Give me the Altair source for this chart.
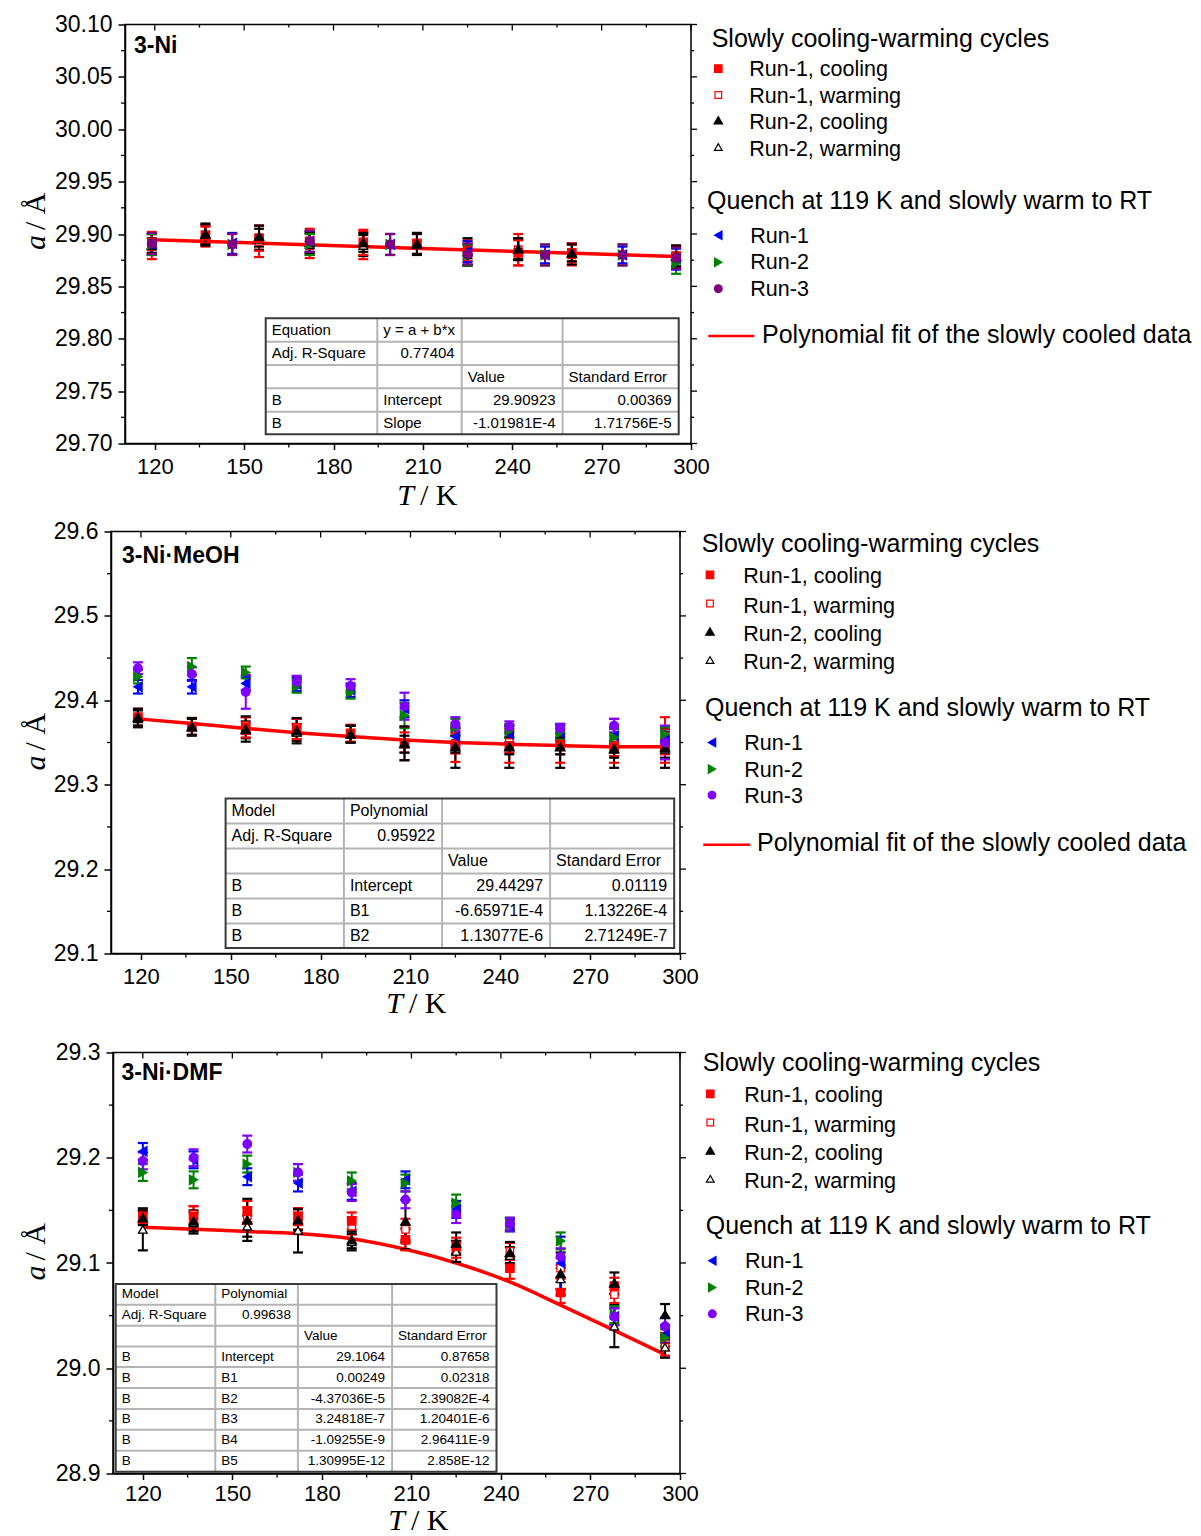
import altair as alt
import pandas as pd

SANS = "Liberation Sans"
SERIF = "Liberation Serif"

# ---------------- shared axis ticks ----------------
X_MAJOR = [120, 150, 180, 210, 240, 270, 300]
X_MINOR = [135, 165, 195, 225, 255, 285]

# ---------------- Panel 1 : 3-Ni ----------------
P1_LABEL = "3-Ni"
P1_YTICKS = [29.70, 29.75, 29.80, 29.85, 29.90, 29.95, 30.00, 30.05, 30.10]
P1_YMINOR = [29.725, 29.775, 29.825, 29.875, 29.925, 29.975, 30.025, 30.075]
P1_T_SLOW = [119, 137, 155, 172, 190, 208, 225, 242, 260, 295]
P1_R1C = [29.892, 29.899, 29.896, 29.893, 29.892, 29.891, 29.884, 29.882, 29.882, 29.879]
P1_R1C_E = [0.010, 0.008, 0.012, 0.012, 0.012, 0.010, 0.010, 0.012, 0.009, 0.010]
P1_R1W = [29.888, 29.898, 29.893, 29.889, 29.889, 29.890, 29.880, 29.885, 29.880, 29.877]
P1_R1W_E = [0.012, 0.010, 0.015, 0.012, 0.013, 0.010, 0.010, 0.015, 0.010, 0.010]
P1_R2C = [29.889, 29.900, 29.898, 29.892, 29.892, 29.891, 29.883, 29.886, 29.882, 29.879]
P1_R2C_E = [0.007, 0.010, 0.010, 0.010, 0.009, 0.010, 0.013, 0.010, 0.008, 0.010]
P1_R2W = [29.890, 29.899, 29.895, 29.890, 29.889, 29.890, 29.880, 29.885, 29.881, 29.878]
P1_R2W_E = [0.010, 0.010, 0.010, 0.010, 0.010, 0.010, 0.010, 0.010, 0.010, 0.010]
P1_T_QUENCH = [119, 146, 172, 199, 225, 251, 277, 295]
P1_Q1 = [29.890, 29.891, 29.893, 29.890, 29.883, 29.880, 29.880, 29.876]
P1_Q1_E = [0.010, 0.010, 0.010, 0.010, 0.010, 0.008, 0.008, 0.010]
P1_Q2 = [29.890, 29.890, 29.890, 29.890, 29.880, 29.880, 29.880, 29.872]
P1_Q2_E = [0.010, 0.010, 0.010, 0.010, 0.010, 0.010, 0.010, 0.010]
P1_Q3 = [29.891, 29.890, 29.893, 29.890, 29.881, 29.880, 29.880, 29.877]
P1_Q3_E = [0.010, 0.010, 0.010, 0.010, 0.010, 0.010, 0.010, 0.010]
P1_FIT_T = [119, 207, 295]
P1_FIT_A = [29.8945, 29.8865, 29.8785]
P1_TABLE = [
    ["Equation", "y = a + b*x", "", ""],
    ["Adj. R-Square", "0.77404", "", ""],
    ["", "", "Value", "Standard Error"],
    ["B", "Intercept", "29.90923", "0.00369"],
    ["B", "Slope", "-1.01981E-4", "1.71756E-5"],
]

# ---------------- Panel 2 : 3-Ni·MeOH ----------------
P2_LABEL = "3-Ni\u00b7MeOH"
P2_YTICKS = [29.1, 29.2, 29.3, 29.4, 29.5, 29.6]
P2_YMINOR = [29.15, 29.25, 29.35, 29.45, 29.55]
P2_T = [119, 137, 155, 172, 190, 208, 225, 243, 260, 278, 295]
P2_R1C = [29.380, 29.369, 29.368, 29.366, 29.361, 29.349, 29.347, 29.346, 29.346, 29.346, 29.346]
P2_R1C_E = [0.010, 0.010, 0.012, 0.012, 0.010, 0.020, 0.020, 0.020, 0.020, 0.020, 0.020]
P2_R1W = [29.379, 29.369, 29.370, 29.368, 29.360, 29.350, 29.349, 29.350, 29.348, 29.356, 29.358]
P2_R1W_E = [0.010, 0.010, 0.010, 0.010, 0.010, 0.012, 0.012, 0.012, 0.012, 0.022, 0.022]
P2_R2C = [29.380, 29.369, 29.366, 29.364, 29.360, 29.349, 29.345, 29.345, 29.345, 29.343, 29.344]
P2_R2C_E = [0.010, 0.010, 0.015, 0.015, 0.010, 0.020, 0.025, 0.025, 0.025, 0.023, 0.024]
P2_R2W = [29.378, 29.368, 29.365, 29.362, 29.360, 29.348, 29.348, 29.346, 29.346, 29.342, 29.342]
P2_R2W_E = [0.010, 0.010, 0.010, 0.010, 0.010, 0.010, 0.010, 0.010, 0.010, 0.010, 0.010]
P2_Q1 = [29.416, 29.416, 29.420, 29.419, 29.412, 29.390, 29.357, 29.360, 29.362, 29.358, 29.353]
P2_Q1_E = [0.008, 0.008, 0.008, 0.008, 0.008, 0.010, 0.010, 0.010, 0.010, 0.010, 0.010]
P2_Q2 = [29.428, 29.440, 29.433, 29.417, 29.410, 29.382, 29.368, 29.364, 29.362, 29.356, 29.360]
P2_Q2_E = [0.008, 0.010, 0.007, 0.008, 0.008, 0.015, 0.010, 0.008, 0.008, 0.010, 0.008]
P2_Q3 = [29.438, 29.431, 29.410, 29.422, 29.417, 29.393, 29.372, 29.369, 29.367, 29.370, 29.350]
P2_Q3_E = [0.007, 0.008, 0.020, 0.007, 0.008, 0.016, 0.008, 0.006, 0.005, 0.008, 0.020]
P2_FIT_T = [119, 137, 155, 172, 190, 208, 225, 243, 260, 278, 295]
P2_FIT_A = [29.378, 29.3725, 29.3667, 29.3616, 29.357, 29.353, 29.350, 29.348, 29.3463, 29.345, 29.345]
P2_TABLE = [
    ["Model", "Polynomial", "", ""],
    ["Adj. R-Square", "0.95922", "", ""],
    ["", "", "Value", "Standard Error"],
    ["B", "Intercept", "29.44297", "0.01119"],
    ["B", "B1", "-6.65971E-4", "1.13226E-4"],
    ["B", "B2", "1.13077E-6", "2.71249E-7"],
]

# ---------------- Panel 3 : 3-Ni·DMF ----------------
P3_LABEL = "3-Ni\u00b7DMF"
P3_YTICKS = [28.9, 29.0, 29.1, 29.2, 29.3]
P3_YMINOR = [28.95, 29.05, 29.15, 29.25]
P3_T = [120, 137, 155, 172, 190, 208, 225, 243, 260, 278, 295]
P3_R1C = [29.144, 29.144, 29.149, 29.144, 29.140, 29.122, 29.116, 29.095, 29.072, 29.078, 29.030]
P3_R1C_E = [0.006, 0.010, 0.010, 0.008, 0.008, 0.010, 0.008, 0.010, 0.010, 0.008, 0.010]
P3_R1W = [29.143, 29.146, 29.145, 29.140, 29.135, 29.132, 29.113, 29.111, 29.095, 29.070, 29.020]
P3_R1W_E = [0.006, 0.008, 0.008, 0.008, 0.008, 0.010, 0.008, 0.008, 0.010, 0.008, 0.008]
P3_R2C = [29.143, 29.140, 29.141, 29.141, 29.122, 29.140, 29.119, 29.110, 29.090, 29.081, 29.051]
P3_R2C_E = [0.007, 0.010, 0.020, 0.010, 0.008, 0.020, 0.010, 0.010, 0.020, 0.010, 0.010]
P3_R2W = [29.132, 29.138, 29.135, 29.131, 29.120, 29.123, 29.111, 29.107, 29.085, 29.040, 29.020]
P3_R2W_E = [0.020, 0.010, 0.010, 0.021, 0.008, 0.010, 0.010, 0.008, 0.010, 0.020, 0.010]
P3_Q1 = [29.206, 29.198, 29.182, 29.176, 29.168, 29.179, 29.151, 29.136, 29.100, 29.049, 29.032]
P3_Q1_E = [0.008, 0.008, 0.008, 0.008, 0.008, 0.008, 0.008, 0.006, 0.025, 0.008, 0.008]
P3_Q2 = [29.186, 29.179, 29.194, 29.186, 29.178, 29.176, 29.157, 29.137, 29.121, 29.051, 29.029]
P3_Q2_E = [0.008, 0.008, 0.008, 0.008, 0.008, 0.008, 0.008, 0.006, 0.008, 0.008, 0.008]
P3_Q3 = [29.197, 29.200, 29.213, 29.186, 29.167, 29.160, 29.146, 29.137, 29.106, 29.049, 29.040]
P3_Q3_E = [0.008, 0.008, 0.008, 0.008, 0.008, 0.008, 0.008, 0.006, 0.008, 0.008, 0.008]
P3_FIT_T = [120, 137, 155, 172, 190, 208, 225, 243, 260, 278, 295]
P3_FIT_A = [29.134, 29.132, 29.130, 29.128, 29.123, 29.113, 29.100, 29.082, 29.060, 29.036, 29.013]
P3_TABLE = [
    ["Model", "Polynomial", "", ""],
    ["Adj. R-Square", "0.99638", "", ""],
    ["", "", "Value", "Standard Error"],
    ["B", "Intercept", "29.1064", "0.87658"],
    ["B", "B1", "0.00249", "0.02318"],
    ["B", "B2", "-4.37036E-5", "2.39082E-4"],
    ["B", "B3", "3.24818E-7", "1.20401E-6"],
    ["B", "B4", "-1.09255E-9", "2.96411E-9"],
    ["B", "B5", "1.30995E-12", "2.858E-12"],
]

# ---------------- legend texts ----------------
LEG_HEAD1 = "Slowly cooling-warming cycles"
LEG_SLOW = ["Run-1, cooling", "Run-1, warming", "Run-2, cooling", "Run-2, warming"]
LEG_HEAD2 = "Quench at 119 K and slowly warm to RT"
LEG_QUENCH = ["Run-1", "Run-2", "Run-3"]
LEG_FIT = "Polynomial fit of the slowly cooled data"

# ---------------- styles ----------------
RED, BLACK, BLUE, GREEN = "#ff0000", "#000000", "#0000ff", "#008000"


def marker_styles(purple):
    return {
        "r1c": ("square", RED, RED, 70),
        "r1w": ("square", "#ffffff", RED, 55),
        "r2c": ("triangle-up", BLACK, BLACK, 90),
        "r2w": ("triangle-up", "#ffffff", BLACK, 75),
        "q1": ("triangle-left", BLUE, BLUE, 90),
        "q2": ("triangle-right", GREEN, GREEN, 90),
        "q3": ("circle", purple, purple, 75),
    }


SLOW_KEYS = ["r1c", "r1w", "r2c", "r2w"]
QUENCH_KEYS = ["q1", "q2", "q3"]
DRAW_ORDER = ["r1w", "r2w", "r1c", "r2c", "q1", "q2", "q3"]

PANELS = [
    dict(
        label=P1_LABEL, ydom=(29.70, 30.10), yticks=P1_YTICKS, yminor=P1_YMINOR, yfmt=".2f",
        series=[("r1c", P1_T_SLOW, P1_R1C, P1_R1C_E), ("r1w", P1_T_SLOW, P1_R1W, P1_R1W_E),
                ("r2c", P1_T_SLOW, P1_R2C, P1_R2C_E), ("r2w", P1_T_SLOW, P1_R2W, P1_R2W_E),
                ("q1", P1_T_QUENCH, P1_Q1, P1_Q1_E), ("q2", P1_T_QUENCH, P1_Q2, P1_Q2_E),
                ("q3", P1_T_QUENCH, P1_Q3, P1_Q3_E)],
        fit=(P1_FIT_T, P1_FIT_A), table=P1_TABLE, purple="#800080",
        # geometry (pixels, relative to plot area)
        left=123, W=566, H=419, top_ext=20, bot_ext=70, xpad=7,
        lab=(9, 28.5), ytitle=(-80, 210.5), xtitle=(289, 480),
        tcols=[140.7, 252.3, 336.7, 437.6, 553.7],
        trows=[293.8, 317.2, 340.5, 363.8, 387.2, 409.8], tfont=15,
        leg=dict(h1=(586.7, 22.5), smx=593.3, stx=624.3, smy=[44.2, 70.5, 95.8, 122.5],
                 sty=[51.5, 78.2, 104.8, 131.5], h2=(582, 184.8), qmx=593.3, qtx=625.3,
                 qmy=[210.8, 237.8, 264.2], qty=[218.2, 244.8, 271.5],
                 fit=(583.3, 629.3, 311.5, 637, 318.2)),
    ),
    dict(
        label=P2_LABEL, ydom=(29.1, 29.6), yticks=P2_YTICKS, yminor=P2_YMINOR, yfmt=".1f",
        series=[("r1c", P2_T, P2_R1C, P2_R1C_E), ("r1w", P2_T, P2_R1W, P2_R1W_E),
                ("r2c", P2_T, P2_R2C, P2_R2C_E), ("r2w", P2_T, P2_R2W, P2_R2W_E),
                ("q1", P2_T, P2_Q1, P2_Q1_E), ("q2", P2_T, P2_Q2, P2_Q2_E),
                ("q3", P2_T, P2_Q3, P2_Q3_E)],
        fit=(P2_FIT_T, P2_FIT_A), table=P2_TABLE, purple="#8000ff",
        left=109, W=569, H=422, top_ext=15.9, bot_ext=70, xpad=7,
        lab=(11, 31), ytitle=(-66, 224), xtitle=(292, 481),
        tcols=[114.6, 232.9, 331.1, 439.1, 563.2],
        trows=[267, 292, 317, 342, 367, 392, 416.6], tfont=16,
        leg=dict(h1=(590.7, 20.3), smx=599, stx=632.3, smy=[43.3, 72, 100, 128.6],
                 sty=[51.6, 81, 109.3, 137.6], h2=(594, 184.3), qmx=601, qtx=633.3,
                 qmy=[211, 237.6, 263.6], qty=[218.3, 245, 271],
                 fit=(592.3, 639.3, 313.3, 646, 319.3)),
    ),
    dict(
        label=P3_LABEL, ydom=(28.9, 29.3), yticks=P3_YTICKS, yminor=P3_YMINOR, yfmt=".1f",
        series=[("r1c", P3_T, P3_R1C, P3_R1C_E), ("r1w", P3_T, P3_R1W, P3_R1W_E),
                ("r2c", P3_T, P3_R2C, P3_R2C_E), ("r2w", P3_T, P3_R2W, P3_R2W_E),
                ("q1", P3_T, P3_Q1, P3_Q1_E), ("q2", P3_T, P3_Q2, P3_Q2_E),
                ("q3", P3_T, P3_Q3, P3_Q3_E)],
        fit=(P3_FIT_T, P3_FIT_A), table=P3_TABLE, purple="#8000ff",
        left=111, W=567, H=421, top_ext=27, bot_ext=58, xpad=4,
        lab=(8.5, 27.3), ytitle=(-68, 213), xtitle=(292, 477),
        tcols=[2.7, 102.3, 184.9, 279.1, 383.5],
        trows=[231.6, 252.3, 273.3, 294, 314.6, 335.6, 356.6, 377.3, 398.3, 419.3], tfont=13.5,
        leg=dict(h1=(589.7, 18.3), smx=597.3, stx=631.3, smy=[41.3, 70, 98, 126.3],
                 sty=[49.6, 79, 107.3, 135.6], h2=(592.7, 181.6), qmx=599.3, qtx=632,
                 qmy=[208.3, 235, 261.3], qty=[215, 242.3, 268.3], fit=None),
    ),
]

ONE = pd.DataFrame({"k": [0]})


def is_num(s):
    try:
        float(s)
        return True
    except ValueError:
        return False


def build_panel(p):
    W, H = p["W"], p["H"]
    ylo, yhi = p["ydom"]
    sx = lambda px: 110 + px / W * 190.0
    sy = lambda py: yhi - py / H * (yhi - ylo)
    styles = marker_styles(p["purple"])

    XS = alt.Scale(domain=[110, 300], nice=False, zero=False)
    YS = alt.Scale(domain=[ylo, yhi], nice=False, zero=False)
    XA = alt.Axis(values=X_MAJOR, title=None, grid=False, labelFont=SANS, labelFontSize=22,
                  labelColor="black", tickColor="black", tickWidth=1.5, tickSize=6,
                  labelPadding=p["xpad"], domainColor="black", domainWidth=1.5, labelFlush=False,
                  labelOverlap=False)
    YA = alt.Axis(values=p["yticks"], format=p["yfmt"], title=None, grid=False, labelFont=SANS,
                  labelFontSize=23, labelColor="black", tickColor="black", tickWidth=1.5,
                  tickSize=7, labelPadding=6, domainColor="black", domainWidth=1.5,
                  labelOverlap=False, labelFlush=False)

    def X(f):
        return alt.X(f, scale=XS, axis=XA)

    def Y(f):
        return alt.Y(f, scale=YS, axis=YA)

    by_key = {s[0]: s for s in p["series"]}
    rows = []
    for key in DRAW_ORDER:
        _, T, A, E = by_key[key]
        shape, fill, stroke, size = styles[key]
        for t, a, e in zip(T, A, E):
            rows.append(dict(T=t, a=a, lo=a - e, hi=a + e, shape=shape, fill=fill,
                             stroke=stroke, size=size))
    ser = pd.DataFrame(rows)
    col = alt.Color("stroke:N", scale=None)

    layers = []
    # minor / opposite ticks
    xminor = pd.DataFrame({"T": X_MINOR})
    xmajor = pd.DataFrame({"T": X_MAJOR})
    yminor = pd.DataFrame({"a": p["yminor"]})
    ymajor = pd.DataFrame({"a": p["yticks"]})
    tk = dict(color="black", strokeWidth=1.3)
    layers.append(alt.Chart(xminor).mark_rule(**tk).encode(x=X("T:Q"), y=alt.value(H), y2=alt.value(H + 4)))
    layers.append(alt.Chart(yminor).mark_rule(**tk).encode(y=Y("a:Q"), x=alt.value(0), x2=alt.value(-4)))
    layers.append(alt.Chart(xmajor).mark_rule(**tk).encode(x=X("T:Q"), y=alt.value(0), y2=alt.value(6)))
    layers.append(alt.Chart(xminor).mark_rule(**tk).encode(x=X("T:Q"), y=alt.value(0), y2=alt.value(3)))
    layers.append(alt.Chart(ymajor).mark_rule(**tk).encode(y=Y("a:Q"), x=alt.value(W), x2=alt.value(W + 6)))
    layers.append(alt.Chart(yminor).mark_rule(**tk).encode(y=Y("a:Q"), x=alt.value(W), x2=alt.value(W + 3)))

    # fit line
    fit = pd.DataFrame({"T": p["fit"][0], "a": p["fit"][1]})
    layers.append(alt.Chart(fit).mark_line(color=RED, strokeWidth=3.5, interpolate="monotone")
                  .encode(x=X("T:Q"), y=Y("a:Q"), order="T:Q"))

    # error bars and points
    layers.append(alt.Chart(ser).mark_rule(strokeWidth=2).encode(x=X("T:Q"), y=Y("lo:Q"), y2="hi:Q", color=col))
    for f in ["lo", "hi"]:
        layers.append(alt.Chart(ser).mark_tick(orient="horizontal", size=10, thickness=2.2, opacity=1)
                      .encode(x=X("T:Q"), y=Y(f + ":Q"), color=col))
    pt_enc = dict(shape=alt.Shape("shape:N", scale=None), fill=alt.Fill("fill:N", scale=None),
                  stroke=alt.Stroke("stroke:N", scale=None), size=alt.Size("size:Q", scale=None))
    layers.append(alt.Chart(ser).mark_point(filled=True, opacity=1, strokeWidth=1.3)
                  .encode(x=X("T:Q"), y=Y("a:Q"), **pt_enc))

    # fit-result table
    tc, tr = p["tcols"], p["trows"]
    box = pd.DataFrame({"x1": [sx(tc[0])], "x2": [sx(tc[-1])], "y1": [sy(tr[0])], "y2": [sy(tr[-1])]})
    layers.append(alt.Chart(box).mark_rect(fill="white").encode(x=X("x1:Q"), x2="x2:Q", y=Y("y1:Q"), y2="y2:Q"))
    lines = [dict(x1=sx(c), x2=sx(c), y1=sy(tr[0]), y2=sy(tr[-1])) for c in tc[1:-1]]
    lines += [dict(x1=sx(tc[0]), x2=sx(tc[-1]), y1=sy(r), y2=sy(r)) for r in tr[1:-1]]
    layers.append(alt.Chart(pd.DataFrame(lines)).mark_rule(color="#b4b4b4", strokeWidth=2)
                  .encode(x=X("x1:Q"), x2="x2:Q", y=Y("y1:Q"), y2="y2:Q"))
    layers.append(alt.Chart(box).mark_rect(fillOpacity=0, stroke="#3a3a3a", strokeWidth=2)
                  .encode(x=X("x1:Q"), x2="x2:Q", y=Y("y1:Q"), y2="y2:Q"))
    left_cells, right_cells = [], []
    for i, row in enumerate(p["table"]):
        yc = sy((tr[i] + tr[i + 1]) / 2)
        for j, txt in enumerate(row):
            if not txt:
                continue
            if j > 0 and is_num(txt):
                right_cells.append(dict(tx=sx(tc[j + 1] - 7), ty=yc, text=txt))
            else:
                left_cells.append(dict(tx=sx(tc[j] + 6), ty=yc, text=txt))
    for cells, al in [(left_cells, "left"), (right_cells, "right")]:
        layers.append(alt.Chart(pd.DataFrame(cells)).mark_text(
            align=al, baseline="middle", font=SANS, fontSize=p["tfont"], color="black")
            .encode(x=X("tx:Q"), y=Y("ty:Q"), text="text:N"))

    # panel label
    layers.append(alt.Chart(ONE).mark_text(text=p["label"], align="left", baseline="alphabetic",
                                           font=SANS, fontWeight="bold", fontSize=23, color="black")
                  .encode(x=alt.value(p["lab"][0]), y=alt.value(p["lab"][1])))

    # axis titles
    yx, yy = p["ytitle"]
    ser_t = dict(font=SERIF, fontSize=30, color="black", baseline="alphabetic")
    layers.append(alt.Chart(ONE).mark_text(text="a", fontStyle="italic", angle=270, align="right", **ser_t)
                  .encode(x=alt.value(yx), y=alt.value(yy)))
    layers.append(alt.Chart(ONE).mark_text(text="/ \u00c5", angle=270, align="left", **ser_t)
                  .encode(x=alt.value(yx), y=alt.value(yy - 5)))
    xx, xy = p["xtitle"]
    layers.append(alt.Chart(ONE).mark_text(text="T", fontStyle="italic", align="right", **ser_t)
                  .encode(x=alt.value(xx), y=alt.value(xy)))
    layers.append(alt.Chart(ONE).mark_text(text="/ K", align="left", **ser_t)
                  .encode(x=alt.value(xx + 6), y=alt.value(xy)))

    # legend
    lg = p["leg"]
    heads = [dict(tx=sx(lg["h1"][0]), ty=sy(lg["h1"][1]), text=LEG_HEAD1),
             dict(tx=sx(lg["h2"][0]), ty=sy(lg["h2"][1]), text=LEG_HEAD2)]
    if lg["fit"] is not None:
        fx1, fx2, fy, ftx, fty = lg["fit"]
        heads.append(dict(tx=sx(ftx), ty=sy(fty), text=LEG_FIT))
        fl = pd.DataFrame({"x1": [sx(fx1)], "x2": [sx(fx2)], "y1": [sy(fy)]})
        layers.append(alt.Chart(fl).mark_rule(color=RED, strokeWidth=2.5)
                      .encode(x=X("x1:Q"), x2="x2:Q", y=Y("y1:Q")))
    layers.append(alt.Chart(pd.DataFrame(heads)).mark_text(
        align="left", baseline="alphabetic", font=SANS, fontSize=25, color="black")
        .encode(x=X("tx:Q"), y=Y("ty:Q"), text="text:N"))
    items = [dict(tx=sx(lg["stx"]), ty=sy(y), text=t) for y, t in zip(lg["sty"], LEG_SLOW)]
    items += [dict(tx=sx(lg["qtx"]), ty=sy(y), text=t) for y, t in zip(lg["qty"], LEG_QUENCH)]
    layers.append(alt.Chart(pd.DataFrame(items)).mark_text(
        align="left", baseline="alphabetic", font=SANS, fontSize=21.5, color="black")
        .encode(x=X("tx:Q"), y=Y("ty:Q"), text="text:N"))
    mk = []
    for key, y in zip(SLOW_KEYS, lg["smy"]):
        shape, fill, stroke, size = styles[key]
        mk.append(dict(T=sx(lg["smx"]), a=sy(y), shape=shape, fill=fill, stroke=stroke, size=size * 0.8))
    for key, y in zip(QUENCH_KEYS, lg["qmy"]):
        shape, fill, stroke, size = styles[key]
        mk.append(dict(T=sx(lg["qmx"]), a=sy(y), shape=shape, fill=fill, stroke=stroke, size=size * 0.8))
    layers.append(alt.Chart(pd.DataFrame(mk)).mark_point(filled=True, opacity=1, strokeWidth=1.2)
                  .encode(x=X("T:Q"), y=Y("a:Q"), **pt_enc))

    # invisible rule that fixes this panel's layout bounds
    layers.append(alt.Chart(ONE).mark_rule(strokeOpacity=0, strokeWidth=0)
                  .encode(x=alt.value(-p["left"]), y=alt.value(-p["top_ext"]),
                          y2=alt.value(H + p["bot_ext"])))

    panel = alt.layer(*layers).properties(width=W, height=H)
    # a 1-px invisible spacer in front lets the panel be placed by its own left bound
    spacer = (alt.Chart(ONE).mark_rule(strokeOpacity=0, strokeWidth=0)
              .encode(x=alt.value(0), y=alt.value(0), y2=alt.value(1))
              .properties(width=1, height=1, view=alt.ViewBackground(stroke=None)))
    return alt.hconcat(spacer, panel, spacing=0)


rows = [build_panel(p) for p in PANELS]
chart = (
    alt.vconcat(*rows, spacing=0)
    .properties(padding={"left": 0, "top": 3.5, "right": 0, "bottom": 0}, background="white")
    .configure_view(stroke="black", strokeWidth=1.5)
)
chart.save("out.html", embed_options={"renderer": "svg", "actions": False})
